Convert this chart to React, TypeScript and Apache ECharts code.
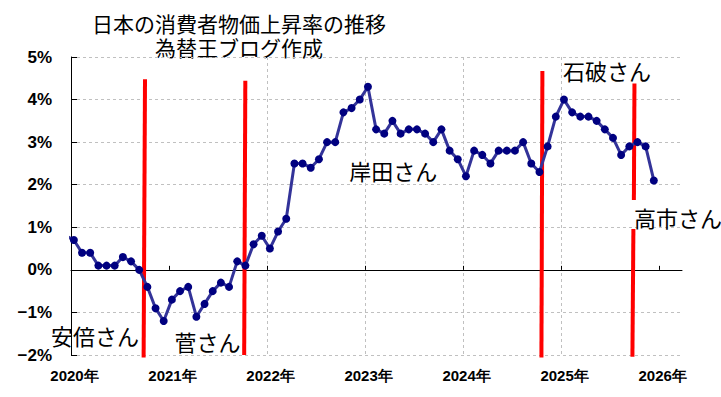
import React, { useEffect, useRef } from "react";
import * as echarts from "echarts";

// Monthly CPI year-on-year (%), Japan
const cpiDec2019 = 0.8;
const cpi2020 = [0.7, 0.4, 0.4, 0.1, 0.1, 0.1, 0.3, 0.2, 0.0, -0.4, -0.9, -1.2];
const cpi2021 = [-0.7, -0.5, -0.4, -1.1, -0.8, -0.5, -0.3, -0.4, 0.2, 0.1, 0.6, 0.8];
const cpi2022 = [0.5, 0.9, 1.2, 2.5, 2.5, 2.4, 2.6, 3.0, 3.0, 3.7, 3.8, 4.0];
const cpi2023 = [4.3, 3.3, 3.2, 3.5, 3.2, 3.3, 3.3, 3.2, 3.0, 3.3, 2.8, 2.6];
const cpi2024 = [2.2, 2.8, 2.7, 2.5, 2.8, 2.8, 2.8, 3.0, 2.5, 2.3, 2.9, 3.6];
const cpi2025 = [4.0, 3.7, 3.6, 3.6, 3.5, 3.3, 3.1, 2.7, 2.9, 3.0, 2.9, 2.1];
const yearLabels = [2020, 2021, 2022, 2023, 2024, 2025, 2026];

// Prime-minister change markers: [monthTop, valueTop, monthBottom, valueBottom]
const pmLines = [
  [9.06, 4.48, 8.89, -2.06],
  [21.34, 4.44, 21.2, -2.0],
  [57.71, 4.67, 57.59, -2.06],
  [68.98, 4.38, 68.91, 1.64],
  [68.85, 0.96, 68.73, -2.04],
];
const pmNames = ["安倍さん", "菅さん", "岸田さん", "石破さん", "高市さん"];
const titleLines = ["日本の消費者物価上昇率の推移", "為替王ブログ作成"];

const MONTH_OFFSET = 0.35;

export default function App() {
  const ref = useRef<HTMLDivElement>(null);
  useEffect(() => {
    document.body.style.margin = "0";
    const chart = echarts.init(ref.current!, null, { renderer: "svg" });
    const all = [cpi2020, cpi2021, cpi2022, cpi2023, cpi2024, cpi2025].flat();
    const data: any[] = [
      { value: [-1 + MONTH_OFFSET, cpiDec2019], symbol: "none" },
      ...all.map((v, i) => [i + MONTH_OFFSET, v]),
    ];
    const yearTicks = yearLabels.map((y) => (y - 2020) * 12);
    const font = "'Liberation Sans', Arial, sans-serif";
    const jp = "'Noto Sans CJK JP', sans-serif";
    const nameText = (text: string, x: number, y: number) => ({
      type: "text",
      x,
      y,
      style: {
        text,
        fontSize: 22,
        fontFamily: jp,
        fill: "#000",
        textAlign: "center",
        textVerticalAlign: "middle",
      },
      z: 100,
    });
    chart.setOption({
      animation: false,
      backgroundColor: "#fff",
      grid: { left: 71, right: 39, top: 57, bottom: 42, outerBoundsMode: "none" },
      xAxis: {
        type: "value",
        min: 0,
        max: 74.8,
        interval: 12,
        axisLine: { onZero: true, lineStyle: { color: "#000", width: 1 } },
        axisTick: {
          show: true,
          inside: true,
          length: 4,
          customValues: yearTicks.slice(1),
          lineStyle: { color: "#000" },
        },
        axisLabel: {
          margin: 13,
          customValues: yearTicks,
          formatter: (v: number) => `${2020 + Math.round(v / 12)}年`,
          fontSize: 15,
          fontWeight: "bold",
          fontFamily: font,
          color: "#000",
          padding: [0, 0, 0, 7],
        },
        splitLine: {
          show: true,
          showMinLine: false,
          showMaxLine: false,
          lineStyle: { color: "#c0c0c0", type: [3, 3], width: 1 },
        },
      },
      yAxis: {
        type: "value",
        min: -2,
        max: 5,
        interval: 1,
        axisLine: { show: true, lineStyle: { color: "#000", width: 1 } },
        axisTick: { show: true, inside: true, length: 6, lineStyle: { color: "#000" } },
        axisLabel: {
          margin: 19,
          formatter: (v: number) => (v < 0 ? "\u2212" + Math.abs(v) : String(v)) + "%",
          fontSize: 17,
          fontWeight: "bold",
          fontFamily: font,
          color: "#000",
        },
        splitLine: {
          show: true,
          lineStyle: { color: "#c0c0c0", type: [3, 3], width: 1 },
        },
      },
      series: [
        {
          type: "custom",
          clip: false,
          silent: true,
          z: 2,
          data: pmLines,
          encode: { x: [0, 2], y: [1, 3] },
          renderItem: (params: any, api: any) => {
            const p1 = api.coord([api.value(0), api.value(1)]);
            const p2 = api.coord([api.value(2), api.value(3)]);
            return {
              type: "line",
              shape: { x1: p1[0], y1: p1[1], x2: p2[0], y2: p2[1] },
              style: { stroke: "#ff0000", lineWidth: 4 },
            };
          },
        },
        {
          type: "line",
          data,
          clip: false,
          symbol: "circle",
          symbolSize: 8,
          showAllSymbol: true,
          itemStyle: { color: "#000080" },
          lineStyle: { color: "#333399", width: 3 },
          z: 3,
        },
      ],
      graphic: [
        {
          type: "text",
          x: 239,
          y: 35,
          style: {
            text: titleLines.join("\n"),
            fontSize: 21,
            lineHeight: 24,
            fontFamily: jp,
            fill: "#000",
            textAlign: "center",
            textVerticalAlign: "middle",
          },
        },
        nameText(pmNames[0], 95, 335),
        nameText(pmNames[1], 207.5, 341),
        nameText(pmNames[2], 393.3, 170),
        nameText(pmNames[3], 607, 70),
        nameText(pmNames[4], 678, 217),
      ],
    });
    return () => chart.dispose();
  }, []);
  return (
    <div
      ref={ref}
      style={{ position: "fixed", left: 0, top: 0, width: 721, height: 397 }}
    />
  );
}
